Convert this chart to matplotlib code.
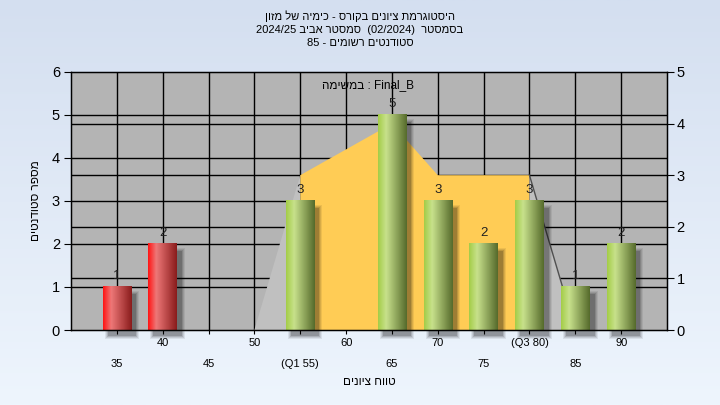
import numpy as np
import matplotlib
matplotlib.use("Agg")
import matplotlib.pyplot as plt
from matplotlib.patches import Rectangle, Polygon
from matplotlib.colors import LinearSegmentedColormap

plt.rcParams['font.family'] = ['Liberation Sans', 'DejaVu Sans']

# Datos del histograma
categories = [35, 40, 45, 50, 55, 60, 65, 70, 75, 80, 85, 90]
counts = [1, 2, 0, 0, 3, 0, 5, 3, 2, 3, 1, 2]
failed = [True, True, False, False, False, False, False, False, False, False, False, False]
x_labels = ['35', '40', '45', '50', '(Q1 55)', '60', '65', '70', '75', '(Q3 80)', '85', '90']

# Curva de distribucion (eje derecho, 0-5)
curve_x = [50, 55, 65, 70, 80, 85]
curve_y = [0, 3, 4, 3, 3, 0]
q1, q3 = 55, 80


def heb(s):
    # matplotlib dibuja de izquierda a derecha: invertir el texto hebreo
    return s[::-1]


title1 = heb("היסטוגרמת ציונים בקורס - כימיה של מזון")
title2 = "2024/25 " + heb("סמסטר אביב") + "  (02/2024)  " + heb("בסמסטר")
title3 = "85 - " + heb("סטודנטים רשומים")
ylabel = heb("מספר סטודנטים")
xlabel = heb("טווח ציונים")
note = heb("במשימה") + " : Final_B"

fig = plt.figure(figsize=(7.2, 4.05), dpi=100)

# Fondo degradado
bg = fig.add_axes([0, 0, 1, 1], zorder=-10)
grad = np.linspace(0, 1, 256).reshape(-1, 1)
bg_cmap = LinearSegmentedColormap.from_list('bg', ['#d4dff0', '#eef5fd'])
bg.imshow(grad, aspect='auto', cmap=bg_cmap, extent=[0, 1, 0, 1], origin='upper')
bg.axis('off')

ax = fig.add_axes([71 / 720, 1 - 330 / 405, 596 / 720, 258 / 405])
ax.set_facecolor('#b4b4b4')
ymax_l, ymax_r = 6, 5
k = ymax_l / ymax_r

# Lineas de rejilla
for v in range(1, ymax_l):
    ax.axhline(v, color='black', lw=1, zorder=0.5)
for v in range(1, ymax_r):
    ax.axhline(v * k, color='black', lw=1, zorder=0.5)
for c in categories:
    ax.axvline(c, color='black', lw=1, zorder=0.5)

# Area de la curva: amarilla entre Q1 y Q3, gris claro fuera
cx = np.array(curve_x, dtype=float)
cy = np.array(curve_y, dtype=float) * k
inner = (cx >= q1) & (cx <= q3)
pts = list(zip(cx[inner], cy[inner]))
ax.add_patch(Polygon([(q1, 0)] + pts + [(q3, 0)], closed=True, fc='#ffcc55', ec='none', zorder=1))
left = cx <= q1
ax.add_patch(Polygon(list(zip(cx[left], cy[left])) + [(q1, 0)], closed=True, fc='#c0c0c0', ec='none', zorder=1))
right = cx >= q3
ax.add_patch(Polygon([(q3, 0)] + list(zip(cx[right], cy[right])), closed=True, fc='#c0c0c0', ec='none', zorder=1))
ax.plot(cx[right], cy[right], color='#505050', lw=1, zorder=1.2)

# Barras cilindricas con sombra
red_cmap = LinearSegmentedColormap.from_list('r', [(0, '#ff1414'), (0.28, '#ee7878'), (1, '#8a1c1c')])
green_cmap = LinearSegmentedColormap.from_list('g', [(0, '#a4cd48'), (0.28, '#c8e18c'), (1, '#566b2c')])
width = 3.1
px_x = 65 / 596
px_y = 6 / 258
gx = np.linspace(0, 1, 64).reshape(1, -1)
for c, n, f in zip(categories, counts, failed):
    if n == 0:
        continue
    x0 = c - width / 2
    for s, a in [(3, 0.07), (2, 0.09), (1, 0.12), (0, 0.16)]:
        ax.add_patch(Rectangle((x0 + (5 - s) * px_x, -(6 + s) * px_y),
                               width + 2 * s * px_x, n + (2 * s - 1) * px_y,
                               fc='black', ec='none', alpha=a, zorder=1.5, clip_on=False))
    ax.imshow(gx, extent=[x0, x0 + width, 0, n], aspect='auto',
              cmap=red_cmap if f else green_cmap, zorder=2, interpolation='bilinear')
    ax.text(c, n + 0.12, str(n), ha='center', va='bottom', fontsize=9.5, color='#202020', zorder=3)

ax.set_xlim(30, 95)
ax.set_ylim(0, ymax_l)
ax.set_yticks(range(0, ymax_l + 1))
ax.tick_params(axis='y', direction='out', length=5, labelsize=10.5, pad=3)
ax.set_xticks(categories)
ax.set_xticklabels(x_labels)
ax.tick_params(axis='x', direction='out', length=3, labelsize=8)
for i, t in enumerate(ax.xaxis.get_major_ticks()):
    t.set_pad(2.5 if i % 2 == 1 else 18)
for sp in ax.spines.values():
    sp.set_color('black')
    sp.set_linewidth(1)

ax2 = ax.twinx()
ax2.set_ylim(0, ymax_r)
ax2.set_yticks(range(0, ymax_r + 1))
ax2.tick_params(axis='y', direction='out', length=5, labelsize=10.5, pad=2)

fig.text(368 / 720, 1 - 85 / 405, note, ha='center', va='center', fontsize=8.5)

ax.set_ylabel(ylabel, fontsize=8.5, labelpad=7)
ax.set_xlabel(xlabel, fontsize=8.5, labelpad=5)

fig.text(0.5, 1 - 10 / 405, title1 + '\n' + title2 + '\n' + title3,
         ha='center', va='top', fontsize=8, linespacing=1.4)

fig.savefig('out.png', dpi=100)
